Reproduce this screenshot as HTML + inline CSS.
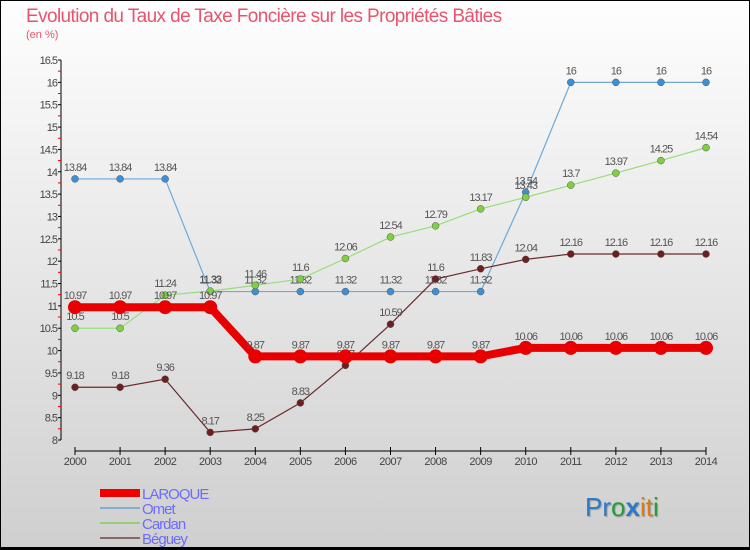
<!DOCTYPE html>
<html><head><meta charset="utf-8"><style>
body{margin:0}
#c{width:750px;height:550px;position:relative;overflow:hidden;background:linear-gradient(#fefefe,#cfcfcf);border:none;font-family:"Liberation Sans",sans-serif}
svg text{font-family:"Liberation Sans",sans-serif}
</style></head><body>
<div id="c">
<svg id="s" width="750" height="550">
<rect x="0.5" y="0.5" width="749" height="548" fill="none" stroke="#000" stroke-width="1"/>
<line x1="0" y1="548.5" x2="750" y2="548.5" stroke="#000" stroke-width="3"/>
<text x="26" y="22" font-size="19" fill="#e8546d" letter-spacing="-0.6">Evolution du Taux de Taxe Foncière sur les Propriétés Bâties</text>
<text x="26" y="38" font-size="11" fill="#e8546d">(en %)</text>
<g id="axes"></g><g id="series"></g>
<g>
<line x1="100" y1="493" x2="140" y2="493" stroke="#e00" stroke-width="8"/>
<text x="142" y="499" font-size="15" fill="#6c6cff" letter-spacing="-1">LAROQUE</text>
<line x1="100" y1="508" x2="140" y2="508" stroke="#88aacc" stroke-width="2"/>
<text x="142" y="514" font-size="15" fill="#6c6cff" letter-spacing="-1">Omet</text>
<line x1="100" y1="523" x2="140" y2="523" stroke="#99cc77" stroke-width="2"/>
<text x="142" y="529" font-size="15" fill="#6c6cff" letter-spacing="-1">Cardan</text>
<line x1="100" y1="538" x2="140" y2="538" stroke="#886666" stroke-width="2"/>
<text x="142" y="544" font-size="15" fill="#6c6cff" letter-spacing="-1">Béguey</text>
</g>
<text x="585" y="516" font-size="26" style="text-shadow:1px 1px 1px #999"><tspan fill="#2a7ac8">Pr</tspan><tspan fill="#2a9a3a">o</tspan><tspan fill="#2a7ac8" font-weight="bold">x</tspan><tspan fill="#e07a10">it</tspan><tspan fill="#2a9a3a">i</tspan></text>
</svg></div>
<script>
const years=[2000,2001,2002,2003,2004,2005,2006,2007,2008,2009,2010,2011,2012,2013,2014];
const yTicks=[8,8.5,9,9.5,10,10.5,11,11.5,12,12.5,13,13.5,14,14.5,15,15.5,16,16.5];
const laroque=[10.97,10.97,10.97,10.97,9.87,9.87,9.87,9.87,9.87,9.87,10.06,10.06,10.06,10.06,10.06];
const omet=[13.84,13.84,13.84,11.32,11.32,11.32,11.32,11.32,11.32,11.32,13.54,16,16,16,16];
const cardan=[10.5,10.5,11.24,11.33,11.46,11.6,12.06,12.54,12.79,13.17,13.43,13.7,13.97,14.25,14.54];
const beguey=[9.18,9.18,9.36,8.17,8.25,8.83,9.67,10.59,11.6,11.83,12.04,12.16,12.16,12.16,12.16];
const NS="http://www.w3.org/2000/svg";
const xS=i=>75+i*(706-75)/(years.length-1);
const yS=v=>440-(v-8)*(380/8.5);
function mk(t,a,p){const e=document.createElementNS(NS,t);for(const k in a)e.setAttribute(k,a[k]);p.appendChild(e);return e;}
const ax=document.getElementById('axes');
let l=mk('line',{x1:61,y1:60,x2:61,y2:440,stroke:'#000'},ax);


yTicks.forEach(v=>{const y=yS(v);
 mk('line',{x1:58,y1:y,x2:61,y2:y,stroke:'#000'},ax);
 if(v<16.5)mk('line',{x1:58,y1:y-11.2,x2:61,y2:y-11.2,stroke:'#e00'},ax);
 const t=mk('text',{x:57,y:y+4,'font-size':11,'text-anchor':'end',fill:'#444','letter-spacing':'-1'},ax);t.textContent=v;
 
 
});
l=mk('line',{x1:75,y1:451,x2:706,y2:451,stroke:'#000'},ax);


years.forEach((yr,i)=>{const x=xS(i);
 mk('line',{x1:x,y1:447,x2:x,y2:455,stroke:'#000'},ax);
 const t=mk('text',{x:x,y:465,'font-size':11,'text-anchor':'middle',fill:'#444','letter-spacing':'-0.5'},ax);t.textContent=yr;
 
 
});
const sg=document.getElementById('series');
function series(name,vals,col,dot,w,r){
 const g=mk('g',{},sg);
 
 
 mk('polyline',{points:vals.map((v,i)=>xS(i)+','+yS(v)).join(' '),fill:'none',stroke:col,'stroke-width':w},g);
 vals.forEach((v,i)=>{const c=mk('circle',{cx:xS(i),cy:yS(v),r:r,fill:dot,stroke:'#555','stroke-width':r>5?0:0.5},g);
  
  
  const t=mk('text',{x:xS(i),y:yS(v)-8,'font-size':11,'text-anchor':'middle',fill:'#555','letter-spacing':'-1'},g);t.textContent=v;
  
  
 });
}
series('omet',omet,'#6fa8d8','#3b8fd6',1.2,3.5);
series('cardan',cardan,'#99dd77','#7fd040',1.2,3.5);
series('beguey',beguey,'#6b2a2a','#6b1f1f',1.2,3.5);
series('laroque',laroque,'#e80000','#e80000',8,7);
</script>
</body></html>
